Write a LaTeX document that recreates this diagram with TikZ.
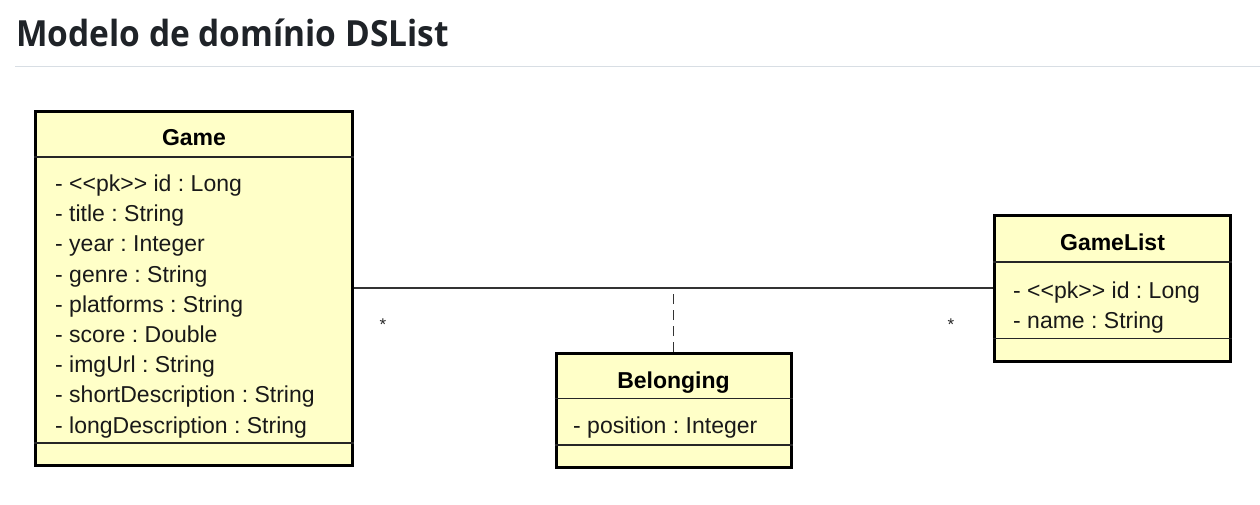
\documentclass[tikz,border=0pt]{standalone}
\usepackage{fontspec}
\setmainfont{Liberation Sans}[Ligatures=NoCommon]
\newfontfamily\titlefont{Open Sans}[FakeStretch=0.93]
\definecolor{umlyellow}{HTML}{FFFFC8}
\definecolor{titlecol}{HTML}{1F2328}
\definecolor{rulecol}{HTML}{D8DEE4}
\definecolor{linecol}{HTML}{333333}
\frenchspacing
\begin{document}
\begin{tikzpicture}[x=1pt,y=-1pt,
  classbox/.style={draw=black, line width=3pt, fill=umlyellow, rectangle, inner sep=0pt},
  compsep/.style={draw=black!85, line width=1.3pt},
  attr/.style={anchor=base west, inner sep=0pt, text=black!90, font=\fontsize{23}{23}\selectfont},
  cname/.style={anchor=base, inner sep=0pt, text=black, font=\fontsize{23}{23}\selectfont\bfseries},
  assoc/.style={draw=linecol, line width=1.4pt},
  assocdash/.style={draw=linecol, line width=1.8pt, dash pattern=on 10pt off 6pt},
  mult/.style={inner sep=0pt, text=black!85, font=\fontsize{17}{17}\selectfont}
]
\path[use as bounding box, fill=white] (0,0) rectangle (1260,504);

% title
\node[anchor=base west, inner sep=0pt, text=titlecol, font=\titlefont\fontsize{36}{36}\selectfont\bfseries] (title) at (16,46.7) {Modelo de domínio DSList};
\draw[rulecol, line width=1.2pt] (15,66.5) coordinate (r1) -- (1260,66.5) coordinate (r2);

% Game
\node[classbox, minimum width=317pt, minimum height=354pt] (game) at (194,288.5) {};
\draw[compsep] (game.west |- 0,157) -- (game.east |- 0,157);
\draw[compsep] (game.west |- 0,443) -- (game.east |- 0,443);
\node[cname] (gamename) at (194,145) {Game};
\node[attr] (g1) at (55,191.5) {- <{}<pk>{}> id : Long};
\node[attr] (g2) at (55,221.7) {- title : String};
\node[attr] (g3) at (55,251.9) {- year : Integer};
\node[attr] (g4) at (55,282.1) {- genre : String};
\node[attr] (g5) at (55,312.3) {- platforms : String};
\node[attr] (g6) at (55,342.5) {- score : Double};
\node[attr] (g7) at (55,372.7) {- imgUrl : String};
\node[attr] (g8) at (55,402.9) {- shortDescription : String};
\node[attr] (g9) at (55,433.1) {- longDescription : String};

% GameList
\node[classbox, minimum width=236pt, minimum height=146pt] (gamelist) at (1112.5,288.5) {};
\draw[compsep] (gamelist.west |- 0,262) -- (gamelist.east |- 0,262);
\draw[compsep] (gamelist.west |- 0,338.5) -- (gamelist.east |- 0,338.5);
\node[cname] (glname) at (1112.5,250) {GameList};
\node[attr] (l1) at (1013,298) {- <{}<pk>{}> id : Long};
\node[attr] (l2) at (1013,328.2) {- name : String};

% Belonging
\node[classbox, minimum width=235pt, minimum height=114pt] (belonging) at (673.5,410.5) {};
\draw[compsep] (belonging.west |- 0,398.5) -- (belonging.east |- 0,398.5);
\draw[compsep] (belonging.west |- 0,445) -- (belonging.east |- 0,445);
\node[cname] (bname) at (673.5,388) {Belonging};
\node[attr] (b1) at (573,433) {- position : Integer};

% association
\draw[assoc] (game.east |- 0,288) -- (gamelist.west |- 0,288);
\coordinate (assocmid) at (belonging.north |- 0,288);
\draw[assocdash] (belonging.north) -- (assocmid);
\node[mult] (m1) at (383,325) {*};
\node[mult] (m2) at (951,325) {*};
\end{tikzpicture}
\end{document}
